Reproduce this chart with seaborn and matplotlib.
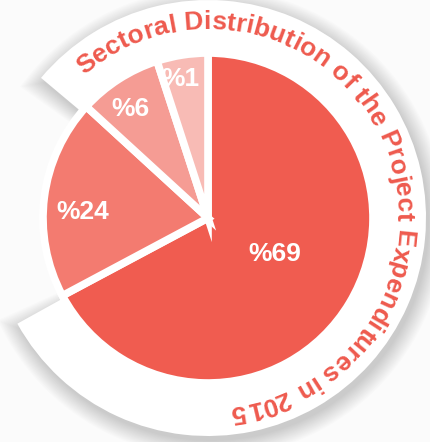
import numpy as np
import matplotlib
matplotlib.use("Agg")
import matplotlib.pyplot as plt
import seaborn as sns
from matplotlib.patches import Wedge
from matplotlib.textpath import TextToPath
from matplotlib.font_manager import FontProperties

# data
sectors = ["A", "B", "C", "D"]
pct_labels = ["%69", "%24", "%6", "%1"]
# slice shares as drawn in the picture (small slices are exaggerated)
drawn_shares = [67.2, 19.6, 8.2, 5.0]
title = "Sectoral Distribution of the Project Expenditures in 2015"

colors = ["#F05C50", "#F37B70", "#F59C94", "#F8BBB5"]
label_r = [0.46, 0.76, 0.81, 0.86]
label_turn = [3, 4.5, 2.5, 2]
red = "#EE5A4E"

sns.set_style("white")
plt.rcParams["font.family"] = ["Liberation Sans", "DejaVu Sans"]

fig = plt.figure(figsize=(4.3, 4.42), dpi=100, facecolor="#fbfbfb")
ax = fig.add_axes([0, 0, 1, 1])
ax.set_facecolor("#fbfbfb")

cx, cy = 208, 224
R = 165
ring_r = 218
ring_t1, ring_t2 = 209, 500

# soft shadow behind the ring
for i in range(16):
    sh = Wedge((cx + 3, cy - 5), ring_r + i * 1.1, ring_t1 - i * 0.3, ring_t2 + i * 0.3,
               facecolor="black", edgecolor="none", alpha=0.013, zorder=0)
    ax.add_patch(sh)

ring = Wedge((cx, cy), ring_r, ring_t1, ring_t2, facecolor="white", edgecolor="none", zorder=1)
ax.add_patch(ring)

wedges, _ = ax.pie(drawn_shares, colors=colors, startangle=90, counterclock=False,
                   radius=R, center=(cx, cy),
                   wedgeprops=dict(edgecolor="white", linewidth=5.5))
for w in wedges:
    w.set_zorder(2)

for w, lab, lr, dt in zip(wedges, pct_labels, label_r, label_turn):
    mid = np.deg2rad((w.theta1 + w.theta2) / 2 + dt)
    ax.text(cx + lr * R * np.cos(mid), cy + lr * R * np.sin(mid), lab,
            color="white", fontsize=19, fontweight="bold", ha="center", va="center", zorder=3)

# curved title along the ring
prop = FontProperties(family="Liberation Sans", weight="bold", size=19)
ttp = TextToPath()
def width_px(s):
    if not s:
        return 0.0
    w, h, d = ttp.get_text_width_height_descent(s, prop, ismath=False)
    return w * 100 / 72

r_base = 189
start = 131
for i, ch in enumerate(title):
    a0 = width_px(title[:i])
    a1 = width_px(title[:i + 1])
    mid_px = (a0 + a1) / 2
    ang = start - np.rad2deg(mid_px / r_base)
    th = np.deg2rad(ang)
    ax.text(cx + r_base * np.cos(th), cy + r_base * np.sin(th), ch, fontproperties=prop,
            color=red, rotation=ang - 90, rotation_mode="anchor",
            ha="center", va="baseline", zorder=3)

ax.set_xlim(0, 430)
ax.set_ylim(0, 442)
ax.set_aspect("auto")
ax.axis("off")

fig.savefig("out.png", dpi=100, facecolor=fig.get_facecolor())
